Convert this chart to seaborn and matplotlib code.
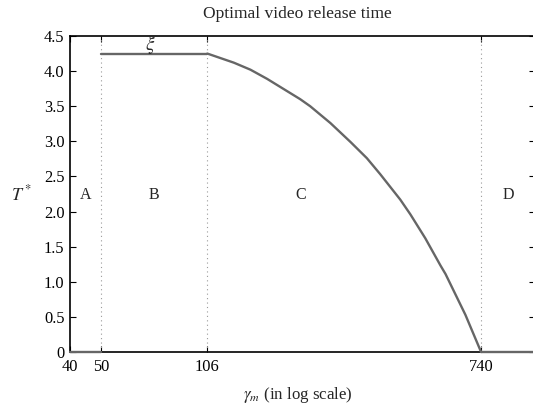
import numpy as np
import pandas as pd
import matplotlib
matplotlib.use("Agg")
import matplotlib.pyplot as plt
import matplotlib.ticker as mticker
import seaborn as sns

# Regime boundaries on the gamma_m axis
x_min, x_max = 40, 1085
boundaries = [50, 106, 740]
xi_level = 4.25

# Region A: no release (T* = 0)
gamma_a = [40, 50]
t_a = [0, 0]
# Region B: flat at xi
gamma_b = [50, 106]
t_b = [xi_level, xi_level]
# Region C: decreasing release time
gamma_c = [106, 128, 144, 162, 205, 220, 254, 293, 329, 362, 417, 448, 498,
           555, 575, 662, 740]
t_c = [4.25, 4.12, 4.02, 3.89, 3.60, 3.50, 3.26, 2.99, 2.76, 2.53, 2.17, 1.96,
       1.62, 1.23, 1.11, 0.53, 0.0]
# Region D: no release again
gamma_d = [740, 1085]
t_d = [0, 0]

region_names = ["A", "B", "C", "D"]
region_label_x = [44.7, 72.5, 205, 900]
region_label_y = 2.24

x_ticks = [40, 50, 106, 740]
y_ticks = [0, 0.5, 1.0, 1.5, 2.0, 2.5, 3.0, 3.5, 4.0, 4.5]
y_tick_labels = ["0", "0.5", "1.0", "1.5", "2.0", "2.5", "3.0", "3.5", "4.0", "4.5"]

sns.set_theme(style="white")
plt.rcParams["font.family"] = ["Liberation Serif", "DejaVu Serif"]
plt.rcParams["mathtext.fontset"] = "stix"

frames = []
for seg, (g, t) in enumerate([(gamma_a, t_a), (gamma_b, t_b), (gamma_c, t_c), (gamma_d, t_d)]):
    frames.append(pd.DataFrame({"gamma": g, "T": t, "segment": seg}))
df = pd.concat(frames, ignore_index=True)

fig = plt.figure(figsize=(5.33, 4.13), dpi=100)
ax = fig.add_axes([70 / 533, 1 - 352 / 413, 465 / 533, 316 / 413])

for b in boundaries:
    ax.axvline(b, color="#9a9a9a", linestyle=(0, (1, 3)), linewidth=0.8, zorder=1)

sns.lineplot(data=df, x="gamma", y="T", units="segment", estimator=None,
             sort=False, color="#666666", linewidth=1.7, ax=ax, zorder=3,
             clip_on=False, solid_joinstyle="round")

ax.set_xscale("log")
ax.set_xlim(x_min, x_max)
ax.set_ylim(0, 4.5)

ax.xaxis.set_major_locator(mticker.FixedLocator(x_ticks))
ax.xaxis.set_major_formatter(mticker.FixedFormatter([str(v) for v in x_ticks]))
ax.xaxis.set_minor_locator(mticker.NullLocator())
ax.set_yticks(y_ticks)
ax.set_yticklabels(y_tick_labels)

ax.tick_params(axis="both", which="major", direction="in", length=4, width=0.8,
               color="black", labelsize=11.8, labelcolor="black")
ax.tick_params(axis="x", top=True, bottom=True, pad=5)
ax.tick_params(axis="y", left=True, right=True, pad=4)

for side in ["left", "bottom", "top", "right"]:
    ax.spines[side].set_visible(True)
    ax.spines[side].set_color("black")
    ax.spines[side].set_linewidth(1.2)

for name, xp in zip(region_names, region_label_x):
    ax.text(xp, region_label_y, name, ha="center", va="center", fontsize=11.5)
ax.text(70.6, 4.38, r"$\xi$", ha="center", va="center", fontsize=14)

ax.set_title("Optimal video release time", fontsize=12.6, pad=13, x=0.49)
ax.set_xlabel(r"$\gamma_m$ (in log scale)", fontsize=12.2)
ax.xaxis.set_label_coords(0.49, -0.105)
ax.set_ylabel(r"$T^*$", fontsize=13, rotation=0, va="center")
ax.yaxis.set_label_coords(-0.105, 0.5)

fig.savefig("out.png", dpi=100)
